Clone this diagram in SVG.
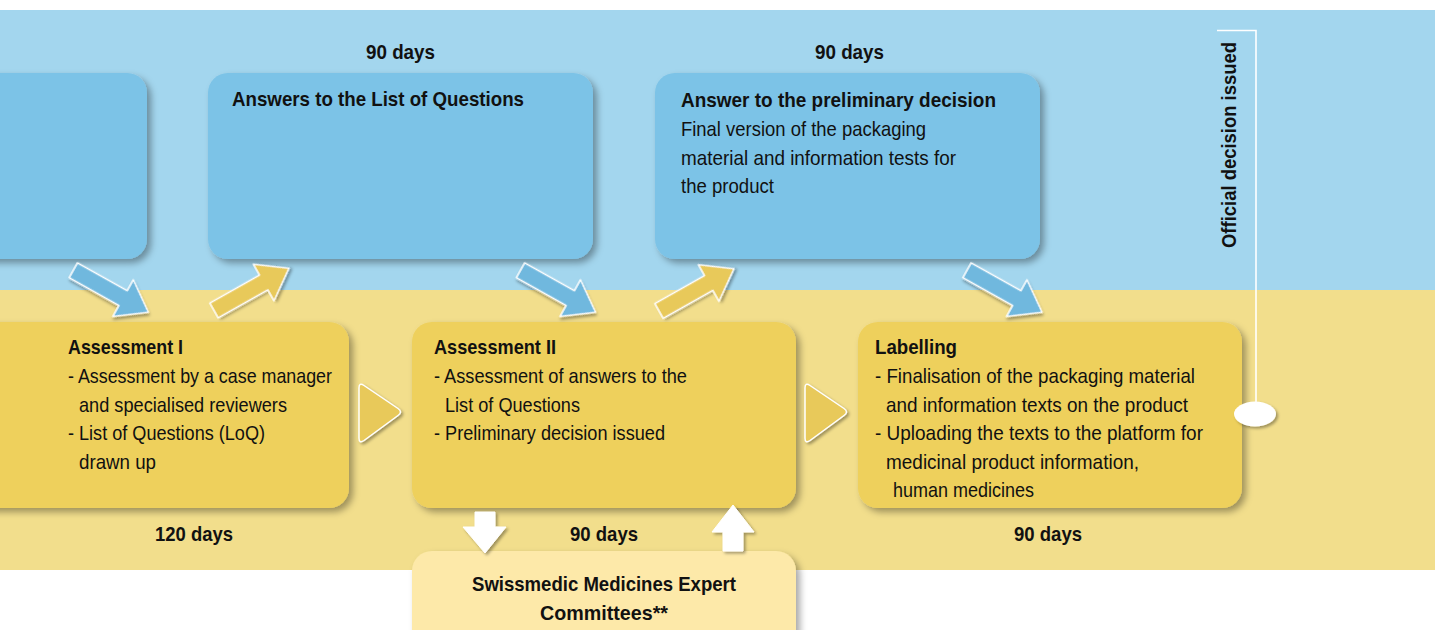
<svg xmlns="http://www.w3.org/2000/svg" width="1435" height="630" viewBox="0 0 1435 630">
<style>
text{font-family:"Liberation Sans",Arial,sans-serif;font-size:21px;fill:#111}
.b{font-weight:bold}
.tb{fill:#7cc3e7}
.yb{fill:#eed05c}
.ba{fill:#6fb8de;stroke:#fff;stroke-width:1.5;stroke-linejoin:round}
.ya{fill:#e8c95a;stroke:#fff;stroke-width:1.5;stroke-linejoin:round}
.wa{fill:#fff;stroke:#fff;stroke-width:1;stroke-linejoin:round}
</style>
<defs>
<filter id="sh" x="-20%" y="-20%" width="150%" height="150%">
<feDropShadow dx="4" dy="4" stdDeviation="3.5" flood-color="#000" flood-opacity="0.35"/>
</filter>
<filter id="sh2" x="-30%" y="-30%" width="170%" height="170%">
<feDropShadow dx="2" dy="2" stdDeviation="1.5" flood-color="#000" flood-opacity="0.35"/>
</filter>
<path id="arr" d="M0,-8.5 L57,-8.5 L57,-21 L86,0 L57,21 L57,8.5 L0,8.5 Z"/>
</defs>

<g id="background">
<rect x="0" y="0" width="1435" height="630" fill="#fff"/>
<rect x="0" y="10" width="1435" height="280" fill="#a3d6ee"/>
<rect x="0" y="290" width="1435" height="280" fill="#f2de8c"/>
</g>

<g id="days">
<text class="b" x="366" y="59" textLength="69" lengthAdjust="spacingAndGlyphs">90 days</text>
<text class="b" x="815" y="59" textLength="69" lengthAdjust="spacingAndGlyphs">90 days</text>
<text class="b" x="155" y="541" textLength="78" lengthAdjust="spacingAndGlyphs">120 days</text>
<text class="b" x="570" y="541" textLength="68" lengthAdjust="spacingAndGlyphs">90 days</text>
<text class="b" x="1014" y="541" textLength="68" lengthAdjust="spacingAndGlyphs">90 days</text>
</g>

<g id="node-top1">
<rect class="tb" x="-240" y="73" width="387" height="186" rx="20" filter="url(#sh)"/>
</g>

<g id="node-answers-loq">
<rect class="tb" x="208" y="73" width="385" height="186" rx="20" filter="url(#sh)"/>
<text class="b" x="232" y="106" textLength="292" lengthAdjust="spacingAndGlyphs">Answers to the List of Questions</text>
</g>

<g id="node-answer-preliminary">
<rect class="tb" x="655" y="73" width="385" height="186" rx="20" filter="url(#sh)"/>
<text class="b" x="681" y="107" textLength="315" lengthAdjust="spacingAndGlyphs">Answer to the preliminary decision</text>
<text x="681" y="136" textLength="245" lengthAdjust="spacingAndGlyphs">Final version of the packaging</text>
<text x="681" y="165" textLength="275" lengthAdjust="spacingAndGlyphs">material and information tests for</text>
<text x="681" y="193" textLength="93" lengthAdjust="spacingAndGlyphs">the product</text>
</g>

<g id="node-assessment1">
<rect class="yb" x="-35" y="322" width="384" height="186" rx="20" filter="url(#sh)"/>
<text class="b" x="68" y="354" textLength="115" lengthAdjust="spacingAndGlyphs">Assessment I</text>
<text x="68" y="383" textLength="264" lengthAdjust="spacingAndGlyphs">- Assessment by a case manager</text>
<text x="79" y="412" textLength="208" lengthAdjust="spacingAndGlyphs">and specialised reviewers</text>
<text x="68" y="440" textLength="197" lengthAdjust="spacingAndGlyphs">- List of Questions (LoQ)</text>
<text x="79" y="469" textLength="77" lengthAdjust="spacingAndGlyphs">drawn up</text>
</g>

<g id="node-assessment2">
<rect class="yb" x="412" y="322" width="384" height="186" rx="20" filter="url(#sh)"/>
<text class="b" x="434" y="354" textLength="122" lengthAdjust="spacingAndGlyphs">Assessment II</text>
<text x="434" y="383" textLength="253" lengthAdjust="spacingAndGlyphs">- Assessment of answers to the</text>
<text x="445" y="412" textLength="135" lengthAdjust="spacingAndGlyphs">List of Questions</text>
<text x="434" y="440" textLength="231" lengthAdjust="spacingAndGlyphs">- Preliminary decision issued</text>
</g>

<g id="node-labelling">
<rect class="yb" x="858" y="322" width="384" height="186" rx="20" filter="url(#sh)"/>
<text class="b" x="875" y="354" textLength="82" lengthAdjust="spacingAndGlyphs">Labelling</text>
<text x="875" y="383" textLength="320" lengthAdjust="spacingAndGlyphs">- Finalisation of the packaging material</text>
<text x="886" y="412" textLength="302" lengthAdjust="spacingAndGlyphs">and information texts on the product</text>
<text x="875" y="440" textLength="328" lengthAdjust="spacingAndGlyphs">- Uploading the texts to the platform for</text>
<text x="886" y="469" textLength="253" lengthAdjust="spacingAndGlyphs">medicinal product information,</text>
<text x="893" y="497" textLength="141" lengthAdjust="spacingAndGlyphs">human medicines</text>
</g>

<g id="node-committees">
<rect x="412" y="551" width="384" height="110" rx="20" fill="#fde9a9" filter="url(#sh)"/>
<text class="b" x="472" y="591" textLength="264" lengthAdjust="spacingAndGlyphs">Swissmedic Medicines Expert</text>
<text class="b" x="540" y="620" textLength="128" lengthAdjust="spacingAndGlyphs">Committees**</text>
</g>

<g id="node-official-decision">
<text class="b" transform="translate(1236,248) rotate(-90)" x="0" y="0" textLength="206" lengthAdjust="spacingAndGlyphs">Official decision issued</text>
</g>

<g id="connectors">
<use href="#arr" class="ba" filter="url(#sh2)" transform="translate(73.3,270.3) rotate(29.2)"/>
<use href="#arr" class="ba" filter="url(#sh2)" transform="translate(520.5,270.3) rotate(29.2)"/>
<use href="#arr" class="ba" filter="url(#sh2)" transform="translate(967,270.3) rotate(29.2)"/>
<use href="#arr" class="ya" filter="url(#sh2)" transform="translate(214,310.5) rotate(-29.4)"/>
<use href="#arr" class="ya" filter="url(#sh2)" transform="translate(659,311) rotate(-29.4)"/>
<path class="ya" filter="url(#sh2)" d="M359,388 Q359,382 364,385.5 L398,408.5 Q403,412 398,415.5 L364,440.5 Q359,444 359,438 Z"/>
<path class="ya" filter="url(#sh2)" d="M805,388 Q805,382 810,385.5 L844,408.5 Q849,412 844,415.5 L810,440.5 Q805,444 805,438 Z"/>
<polygon class="wa" filter="url(#sh2)" points="475,512 495,512 495,527 506,527 485,553 463,527 475,527"/>
<polygon class="wa" filter="url(#sh2)" points="733,505 754,532 743,532 743,551 723,551 723,532 712,532"/>
<polyline points="1217,30.5 1256,30.5 1256,402" fill="none" stroke="#fff" stroke-width="1.6"/>
<ellipse cx="1255" cy="414" rx="21" ry="12.5" fill="#fff" filter="url(#sh2)"/>
</g>
</svg>
